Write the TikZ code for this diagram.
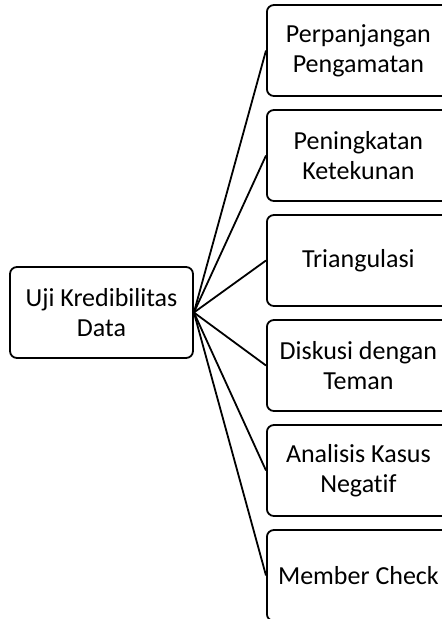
\documentclass[tikz,border=0pt]{standalone}
\usepackage{fontspec}
\setmainfont[Ligatures=NoCommon]{Carlito}
\begin{document}
\begin{tikzpicture}[x=1pt,y=-1pt,
  box/.style={draw=black, line width=1.8pt, rounded corners=7pt, fill=white,
    minimum width=183pt, minimum height=91pt, align=center,
    font=\fontsize{26}{30}\selectfont, inner sep=0pt},
  link/.style={line width=1.8pt}]
\useasboundingbox (0,0) rectangle (442,619);
\begin{scope}
\clip (0,0) rectangle (442,619);
\node[box] (root) at (101.5,312.5) {Uji Kredibilitas\\Data};
\node[box,anchor=west] (c1) at (266,50.5) {Perpanjangan\\Pengamatan};
\node[box,anchor=west] (c2) at (266,155.5) {Peningkatan\\Ketekunan};
\node[box,anchor=west] (c3) at (266,260.5) {Triangulasi};
\node[box,anchor=west] (c4) at (266,365.5) {Diskusi dengan\\Teman};
\node[box,anchor=west] (c5) at (266,470.5) {Analisis Kasus\\Negatif};
\node[box,anchor=west] (c6) at (266,575.5) {Member Check};
\foreach \c in {c1,c2,c3,c4,c5,c6}{
  \draw[link] (root.east) -- (\c.west);
}
\end{scope}
\end{tikzpicture}
\end{document}
